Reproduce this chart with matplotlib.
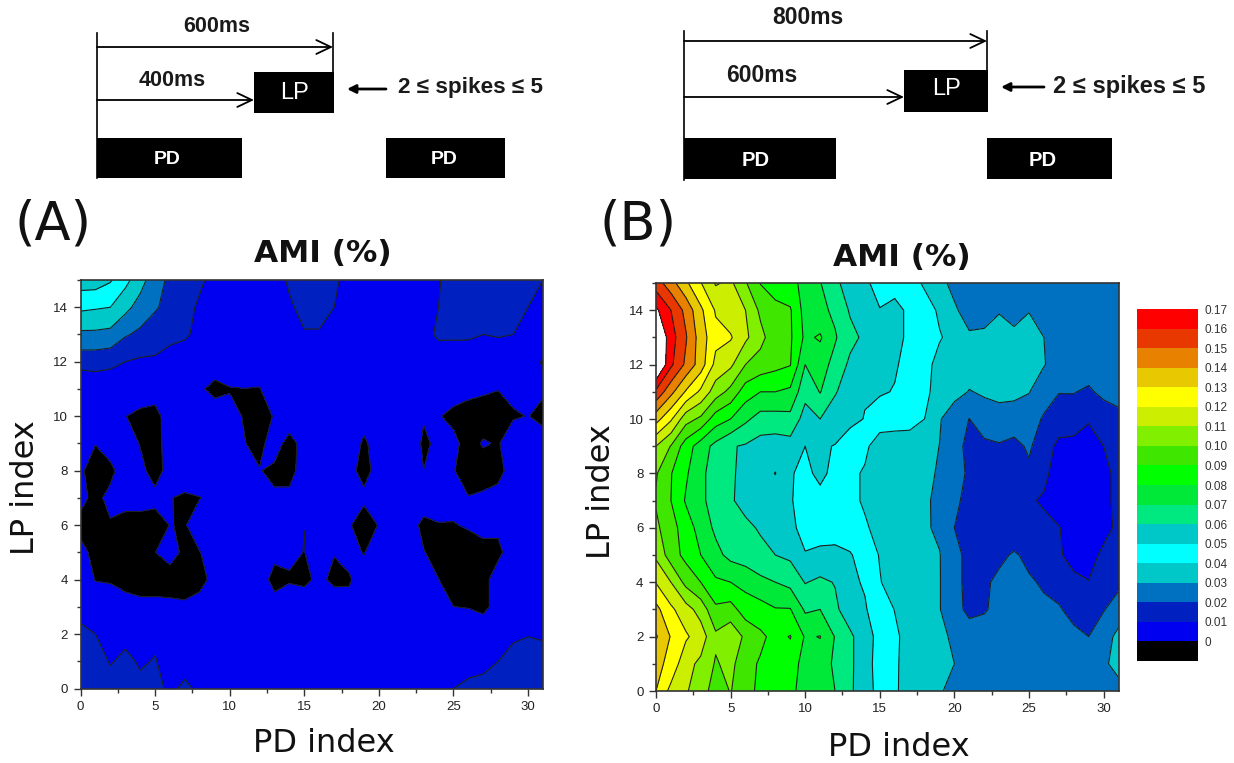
import numpy as np
import matplotlib
matplotlib.use("Agg")
import matplotlib.pyplot as plt
from matplotlib.patches import Rectangle

W, H = 1234, 763
SANS = "Liberation Sans"

# ------------------------------------------------------------------ data
pd_index = list(range(32))
lp_index = list(range(16))[::-1]      # rows below run from LP index 15 down to 0

colour_levels = [-10, 0, 10, 20, 30, 40, 50, 60, 70, 80, 90, 100, 110, 120, 130, 140, 150, 160, 170]
band_colours = ["#000000", "#0000f0", "#0020c0", "#0070c0", "#00c8c8", "#00ffff", "#00c8c8", "#00e880",
                "#00e838", "#00ff00", "#3fe600", "#80f000", "#ccee00", "#ffff00", "#e8c800", "#e88000",
                "#e83800", "#ff0000"]
bar_ticks = [0, 10, 20, 30, 40, 50, 60, 70, 80, 90, 100, 110, 120, 130, 140, 150, 160, 170]

# AMI (%) x 1000, panel A
ami_a = [
 [55,55,51,43,34,24,18,15,11,8,7,6,6,7,11,15,15,11,8,7,6,6,6,7,9.5,13,14,14,14,13,12,10],
 [42,41,40,33,26,21,17,12,9,7,6,6,6,7,9,12,12,10,7,6,6,6,6,7,10,13,13,13,13,13,10,8],
 [28,28,27,21,18,15,12,11,8,6,6,6,6,6,7,9.5,9.5,7,6,6,6,6,6,8,11,11,11,10,10.5,10,8,7],
 [14,14,13,10,8.5,8.5,7,6,5,2,5,5,5,5,5,5,5,5,5,5,5,5,5,6,6.3,6.3,6,6,6,6,5,-1],
 [1,3,2,4,5,4.3,5,5,.5,-1,-.4,-.1,-.4,5,5,5,5,5,5,5,5,5,5,5,5,3.7,2.7,1.3,.25,2.3,3,1.6],
 [5,5,5,.2,-2,-3,4.5,5,4,1.9,2,-.5,-3,.5,5,5,5,5,5,5,5,5,5,1,.5,-2,-4,-4,-4,-1,.3,-3],
 [4,.2,6,4,-.4,-4,5,5,5,5,5,.2,-2,3.4,-3,3,5,5,8,-2,5.6,5,8,-2,2.4,2,-3,.8,-.8,6,5,5],
 [1,-3,-3,6,2,-3,3,8,5,5,5,5,.3,-1.5,-3,4,5,5,2.7,-3,3.5,5,5,.1,5,.5,-4.5,-4,-4,6,5,5],
 [3,-3,3,3.25,3,2,.5,-2,-.2,2,5,5,5,1,2,5,5,5,5,2,5,5,5,4.5,4.5,4,.4,1.4,4.5,5,5,5],
 [-3,-5,-1,-3.25,-3,-3,.2,-.6,4,5,5,5,5,5,5,.05,5,5,1,-5,.5,5,3.7,-2,-.5,-.6,1,2.5,2.5,5,5,5],
 [3,-3,-5,-5,-5,-.2,5,-3,-.2,3,5,5,5,2.4,2,-.2,4.5,.3,3,-.5,5,5,5,.35,-3,-5,-4.5,-2.6,-2.6,6,5,5],
 [3,-.2,-1,-5,-5,-5,-6,-5,-3,3,5,5,4.5,-3,-1,-1.5,1.5,-1.5,-1,4.5,5,5,5,5,.1,-4,-5,-4,6,5,5,5],
 [7,3,6,6,3,3,3,1.7,3.7,5,5,5,5,3.7,6,4.2,5,4.3,3,5,5,5,5,5,5,.05,-.3,-1,1.5,5,6,6],
 [12,10,7,7.5,6,8,5,5,5,5,5,5,5,5,5,5,5,5,5,5,5,5,5,5,5,5,5,2.7,5,8.5,9.67,9],
 [15,14,9.3,12,9,10.5,6,6,5,5,5,5,5,5,5,5,5,5,5,5,5,5,5,5,5,5,5,6.5,10,13,13,13],
 [15,15,14,14,12,13,8,12,8,6,5,5,5,5,5,5,5,5,5,5,5,5,5,5,7,10,13,14,15,15,15,15],
]

# AMI (%) x 1000, panel B
ami_b = [
 [155,144,132,120.5,109,112,101,89.6,85,83,77,70.5,62,56,51,48,46,43,39,32,28,26,26,26,26,26,26,26,26,26,26,28],
 [172,160,147,132,119,114,110,98,93,91,76,72.5,68,59,54,50.2,53,48,43,39,31,27,28,29.5,27,29.6,25,25,25,25,25,29],
 [183,164.5,151,135,123,121,112,103,94,91.4,78,81.2,71,63,58,55,53,48,43,40.5,38,31,31,33,32,34,30,26,25,25,25,29],
 [185,162,148,135,117,112,100,96,93,90.5,70,74,67,58,55,53,51,47,42,38,36,35,34,34,34,33,30.5,26,25,25,25,25],
 [158,143,129,118,105,97,85,80,80,78,63,70.5,61,54,50.6,51,49.5,46,41.5,37.5,34,29.5,31.3,32,32,30.4,24,20.4,20.4,18.5,22.5,24],
 [134,121.5,104,98,85,80,72,66,66,67,56,60,54,52,49.7,45,44,43.5,40,31,23,19.9,25,27,26,24,19,14.5,15,11,14,17],
 [110,99.5,85,75,67,60.8,59,56,55,56,50,51,49.7,46,42,35,35,35,33,29.9,24,17,18,19,17,21.5,14,8,7,5,10,14],
 [101,90.5,81.5,72,66,61,58,56,60.3,51,47,53,46.5,42,39,36,35,34,33,28.7,25,18,17,16,15,18,12,6,4,3,7,13],
 [99,90,79,72,66,61,57,56,54,50.8,46,46,46,42,39,35,33.5,33,32,27,22,17,16,16,15,11,9,4,2,2,6,14],
 [102,94,85,76,68,65,62,59,57,52,47,46,45,43,41,37.5,35,33,31.5,28,20,17,16,15,14,13,12,10.5,5,4,7,12],
 [108,95,87,80,73,67,65,62.5,60,58,50.5,52,53,51,45,39.5,36,33,31.5,30.5,22,18,18,18,21,18,15,11,7,6.5,12,15],
 [119.5,110,97,90,81.5,80,77,72.5,70,67,59.5,62,59.5,52,49,40.5,36,33,31.5,30.5,23,17,18.5,22,24,21,19,15,12,10.3,13,18],
 [133,122,114,106,92,94,85,84,80.6,80.5,68.5,70,62,54.5,51,44,39.8,35,32,30.5,22.8,18,19,23,24,24,21.5,21.2,16,14,19.5,24],
 [141,129.3,121.5,115,102,107,98,92,87,90.5,79,80.3,69.5,62,54,47,41.5,37,33,32,28.5,24,25,26,26,26,26,25,23,20,25,33],
 [133,127,113,108,99,103,93,89,85,85,76,76,68,62,54,46,41.5,36,33,32,30,26,26,26,26,26,26,26,26,26,28.5,33],
 [130,117,111,105,95,100.5,93,88,85,83,75,74,70,62,53,47.7,41,37,33,31,27,26,26,26,26,26,26,26,26,26,26,27],
]

# schematic timing labels
panel_labels = ["(A)", "(B)"]
time_labels_a = ["600ms", "400ms"]
time_labels_b = ["800ms", "600ms"]
spike_label = "2 \u2264 spikes \u2264 5"


def px_rect(left, top, right, bottom):
    return [left / W, 1 - bottom / H, (right - left) / W, (bottom - top) / H]


fig = plt.figure(figsize=(W / 100, H / 100), dpi=100, facecolor="white")

# ------------------------------------------------------------------ overlay for the schematic
ov = fig.add_axes([0, 0, 1, 1], zorder=5)
ov.set_xlim(0, W)
ov.set_ylim(H, 0)
ov.axis("off")


def box(x0, x1, y0, y1, label, xc, yc, size, weight):
    ov.add_patch(Rectangle((x0, y0), x1 - x0, y1 - y0, color="black", lw=0))
    ov.text(xc, yc, label, color="white", ha="center", va="center",
            family=SANS, fontsize=size, weight=weight)


def timing(x0, y_long, x_long, y_short, x_short, top, bottom, lp_top, labels, lab_pos, size):
    ov.plot([x0, x0], [top, bottom], color="black", lw=1.2)
    ov.plot([x_long, x_long], [top, lp_top], color="black", lw=1.2)
    for y, x1 in ((y_long, x_long), (y_short, x_short)):
        ov.annotate("", xy=(x1, y), xytext=(x0, y),
                    arrowprops=dict(arrowstyle="->,head_length=1.05,head_width=0.5", lw=1.3,
                                    color="black", shrinkA=0, shrinkB=0))
    for txt, (x, y) in zip(labels, lab_pos):
        ov.text(x, y, txt, ha="center", va="center", family=SANS, fontsize=size, weight="bold",
                color="#1a1a1a")


def spike_note(x_from, x_to, y, x_text, size):
    ov.annotate("", xy=(x_to, y), xytext=(x_from, y),
                arrowprops=dict(arrowstyle="-|>,head_length=0.5,head_width=0.25", lw=2,
                                color="black", shrinkA=0, shrinkB=0))
    ov.text(x_text, y - 1, spike_label, ha="left", va="center", family=SANS, fontsize=size,
            weight="bold", color="#1a1a1a")


timing(97, 47, 333, 100, 254, 33, 178, 72, time_labels_a, [(217, 26), (172, 81)], 15.5)
box(254, 334, 72, 113, "LP", 294, 93, 17, "normal")
box(97, 242, 138, 178, "PD", 167, 159, 14, "bold")
box(386, 505, 138, 178, "PD", 444, 159, 14, "bold")
spike_note(386, 347, 89, 398, 16.2)

timing(684, 41, 987, 97, 904, 31, 180, 70, time_labels_b, [(808, 18), (762, 76)], 16.5)
box(904, 988, 70, 112, "LP", 946, 89, 17, "normal")
box(684, 836, 138, 179, "PD", 756, 160, 14.5, "bold")
box(987, 1112, 138, 179, "PD", 1043, 160, 14.5, "bold")
spike_note(1044, 1001, 87, 1053, 17)

ov.text(53, 224, panel_labels[0], ha="center", va="center", fontsize=38, color="#111111")
ov.text(638, 224, panel_labels[1], ha="center", va="center", fontsize=38, color="#111111")


# ------------------------------------------------------------------ contour panels
def panel(rect, rows, xlab_c, ylab_c, title_c):
    left, top, right, bottom = rect
    w, h = right - left, bottom - top
    ax = fig.add_axes(px_rect(*rect))
    z = np.array(rows, dtype=float)
    cs = ax.contourf(pd_index, lp_index, z, levels=colour_levels, colors=band_colours)
    ax.contour(pd_index, lp_index, z, levels=colour_levels[1:], colors="#202020", linewidths=0.8)
    ax.set_xlim(0, 31)
    ax.set_ylim(0, 15)
    ax.set_xticks(range(0, 31, 5))
    ax.set_xticks(np.arange(2.5, 31, 5), minor=True)
    ax.set_yticks(range(0, 15, 2))
    ax.set_yticks(range(1, 16, 2), minor=True)
    ax.tick_params(which="major", direction="out", length=5, width=1, color="#333333", pad=4,
                   labelsize=9.5, labelcolor="#222222")
    ax.tick_params(which="minor", direction="out", length=3, width=1, color="#333333")
    for lab in ax.get_xticklabels() + ax.get_yticklabels():
        lab.set_family(SANS)
    for s in ax.spines.values():
        s.set_linewidth(1.2)
        s.set_color("#333333")
    ax.set_xlabel("PD index", fontsize=23, color="#111111", va="center")
    ax.xaxis.set_label_coords((xlab_c[0] - left) / w, (bottom - xlab_c[1]) / h)
    ax.set_ylabel("LP index", fontsize=23, color="#111111", va="center")
    ax.yaxis.set_label_coords((ylab_c[0] - left) / w, (bottom - ylab_c[1]) / h)
    ax.set_title("AMI (%)", fontsize=22.5, weight="bold", color="#111111", va="center", pad=0,
                 x=(title_c[0] - left) / w, y=(bottom - title_c[1]) / h)
    return cs


panel((80.5, 280, 543, 688.5), ami_a, (324, 744), (26, 488), (323, 253))
cs_b = panel((656, 283, 1118.5, 691), ami_b, (899, 748), (601, 492), (902, 258))

# ------------------------------------------------------------------ colour key
cax = fig.add_axes(px_rect(1137, 309, 1198, 661))
cb = fig.colorbar(cs_b, cax=cax, spacing="uniform", ticks=bar_ticks, drawedges=False)
cb.outline.set_visible(False)
cb.ax.tick_params(length=0, pad=5, labelsize=8.5, labelcolor="#333333")
cb.ax.set_yticklabels(["0"] + [f"{t / 1000:.2f}" for t in bar_ticks[1:]], family=SANS)

fig.savefig("out.png", dpi=100)
